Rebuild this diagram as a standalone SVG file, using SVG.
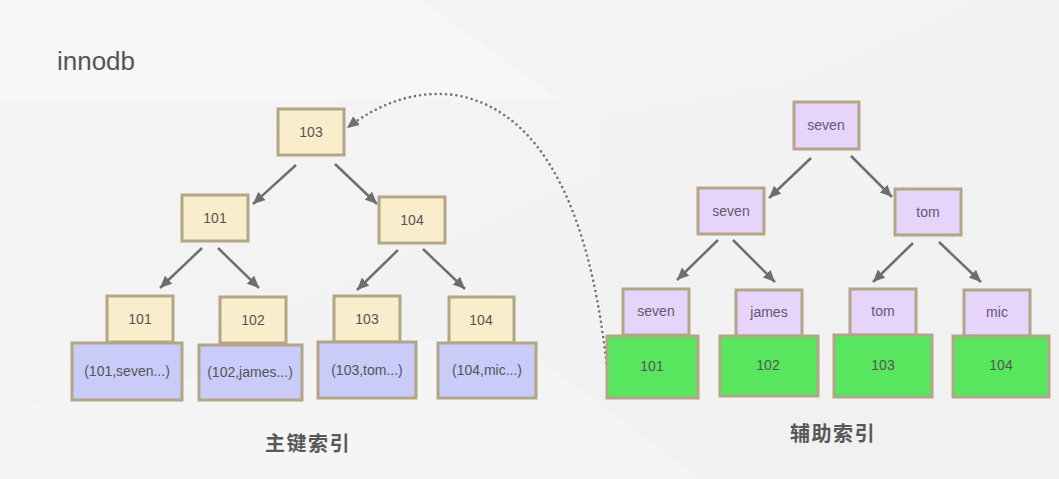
<svg xmlns="http://www.w3.org/2000/svg" width="1059" height="479" viewBox="0 0 1059 479">
  <defs>
    <marker id="ah" markerUnits="userSpaceOnUse" markerWidth="13" markerHeight="11" refX="12" refY="5.5" orient="auto">
      <path d="M0,0 L12,5.5 L0,11 z" fill="#6b706d"/>
    </marker>
    <marker id="ahd" markerUnits="userSpaceOnUse" markerWidth="13" markerHeight="11" refX="12" refY="5.5" orient="auto">
      <path d="M0,0 L12,5.5 L0,11 z" fill="#707070"/>
    </marker>
    <linearGradient id="bg" x1="0" y1="0" x2="1" y2="1">
      <stop offset="0" stop-color="#f5f5f5"/>
      <stop offset="1" stop-color="#f0f0f0"/>
    </linearGradient>
  </defs>
  <style>
    .k rect { fill: #f9edcb; stroke: #b3a687; stroke-width: 3; }
    .r rect { fill: #c9cbf8; stroke: #b3a687; stroke-width: 3; }
    .p rect { fill: #e6d4fb; stroke: #b3a687; stroke-width: 3; }
    .g rect { fill: #58e65f; stroke: #b3a687; stroke-width: 3; }
    text { font-family: "Liberation Sans", Arial, sans-serif; fill: #555555; text-anchor: middle; dominant-baseline: central; }
    .n text { font-size: 14px; }
    .p text { fill: #62596a; }
    .lbl { font-family: "Noto Sans CJK SC", "Liberation Sans", sans-serif; font-size: 20px; font-weight: bold; letter-spacing: 1.5px; fill: #585858; }
    .edge { stroke: #6b706d; stroke-width: 2.5; fill: none; marker-end: url(#ah); }
    .dot { stroke: #707070; stroke-width: 2.6; fill: none; stroke-dasharray: 0 5.2; stroke-linecap: round; marker-end: url(#ahd); }
  </style>
  <rect x="0" y="0" width="1059" height="479" fill="url(#bg)"/>
  <polygon points="0,0 420,0 560,100 0,100" fill="#f8f8f8" opacity="0.6"/>
  <polygon points="600,120 1059,40 1059,479 640,479" fill="#f1f1f1" opacity="0.5"/>
  <polygon points="0,410 500,330 700,479 0,479" fill="#f7f7f7" opacity="0.5"/>

  <text x="96" y="61" style="font-size:26px; text-anchor:middle;">innodb</text>

  <g id="connectors">
    <line class="edge" x1="296" y1="165" x2="253" y2="204"/>
    <line class="edge" x1="335" y1="164" x2="377" y2="204"/>
    <line class="edge" x1="202" y1="248" x2="160" y2="288"/>
    <line class="edge" x1="218" y1="248" x2="259" y2="288"/>
    <line class="edge" x1="398" y1="250" x2="357" y2="290"/>
    <line class="edge" x1="423" y1="249" x2="465" y2="289"/>
    <line class="edge" x1="811" y1="158" x2="769" y2="198"/>
    <line class="edge" x1="851" y1="156" x2="892" y2="197"/>
    <line class="edge" x1="718" y1="240" x2="677" y2="280"/>
    <line class="edge" x1="733" y1="240" x2="775" y2="282"/>
    <line class="edge" x1="913" y1="243" x2="873" y2="282"/>
    <line class="edge" x1="939" y1="242" x2="981" y2="282"/>
    <path class="dot" d="M607,368 C596,265 565,118 460,96 C418,88 378,104 347,128"/>
  </g>

  <g id="pk-root" class="n k"><rect x="278" y="109" width="66" height="46"/><text x="311" y="132">103</text></g>
  <g id="pk-101" class="n k"><rect x="182" y="195" width="66" height="46"/><text x="215" y="218">101</text></g>
  <g id="pk-104" class="n k"><rect x="379" y="197" width="66" height="46"/><text x="412" y="220">104</text></g>

  <g id="pk-leaf-101" class="n">
    <g class="k"><rect x="107" y="296" width="66" height="46"/><text x="140" y="319">101</text></g>
    <g class="r"><rect x="72" y="343" width="110" height="57"/><text x="127" y="371">(101,seven...)</text></g>
  </g>
  <g id="pk-leaf-102" class="n">
    <g class="k"><rect x="220" y="297" width="66" height="46"/><text x="253" y="320">102</text></g>
    <g class="r"><rect x="199" y="345" width="103" height="55"/><text x="250" y="372">(102,james...)</text></g>
  </g>
  <g id="pk-leaf-103" class="n">
    <g class="k"><rect x="334" y="296" width="66" height="46"/><text x="367" y="319">103</text></g>
    <g class="r"><rect x="318" y="342" width="98" height="56"/><text x="367" y="370">(103,tom...)</text></g>
  </g>
  <g id="pk-leaf-104" class="n">
    <g class="k"><rect x="449" y="297" width="65" height="46"/><text x="481" y="320">104</text></g>
    <g class="r"><rect x="438" y="343" width="98" height="55"/><text x="487" y="370">(104,mic...)</text></g>
  </g>

  <text class="lbl" x="308" y="442">主键索引</text>

  <g id="sk-root" class="n p"><rect x="794" y="102" width="65" height="47"/><text x="826" y="125">seven</text></g>
  <g id="sk-seven" class="n p"><rect x="698" y="188" width="66" height="46"/><text x="731" y="211">seven</text></g>
  <g id="sk-tom" class="n p"><rect x="895" y="189" width="66" height="46"/><text x="928" y="212">tom</text></g>

  <g id="sk-leaf-seven" class="n">
    <g class="p"><rect x="623" y="289" width="66" height="46"/><text x="656" y="311">seven</text></g>
    <g class="g"><rect x="607" y="336" width="91" height="62"/><text x="652" y="366">101</text></g>
  </g>
  <g id="sk-leaf-james" class="n">
    <g class="p"><rect x="736" y="290" width="66" height="46"/><text x="769" y="312">james</text></g>
    <g class="g"><rect x="720" y="336" width="98" height="60"/><text x="768" y="365">102</text></g>
  </g>
  <g id="sk-leaf-tom" class="n">
    <g class="p"><rect x="850" y="289" width="66" height="46"/><text x="883" y="311">tom</text></g>
    <g class="g"><rect x="834" y="335" width="98" height="62"/><text x="883" y="365">103</text></g>
  </g>
  <g id="sk-leaf-mic" class="n">
    <g class="p"><rect x="964" y="290" width="66" height="46"/><text x="997" y="312">mic</text></g>
    <g class="g"><rect x="953" y="336" width="96" height="61"/><text x="1001" y="365">104</text></g>
  </g>

  <text class="lbl" x="833" y="432">辅助索引</text>
</svg>
